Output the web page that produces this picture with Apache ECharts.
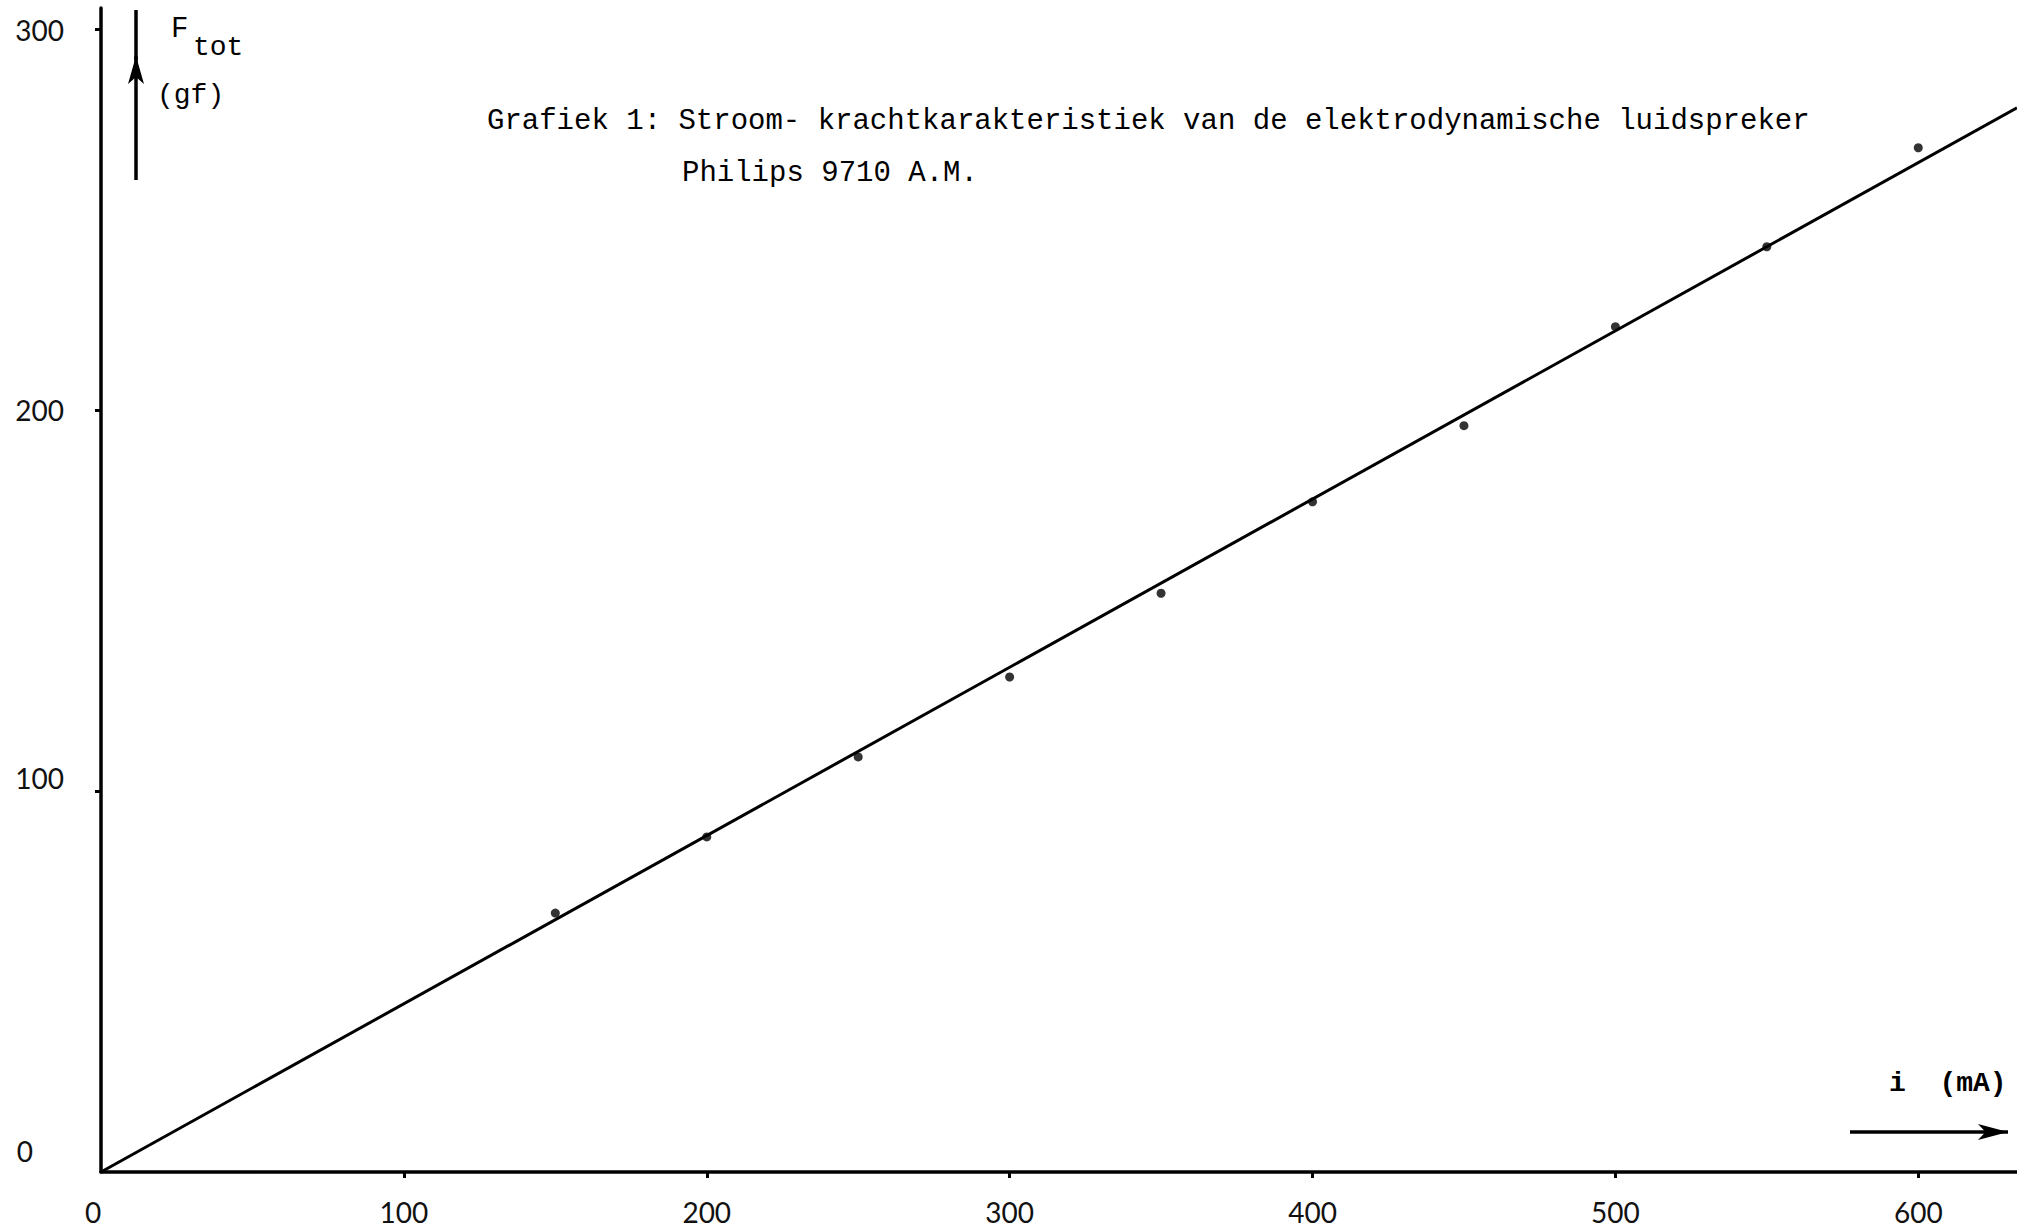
<!DOCTYPE html>
<html>
<head>
<meta charset="utf-8">
<script src="https://cdn.jsdelivr.net/npm/echarts@6.0.0/dist/echarts.min.js"></script>
<style>
  html, body { margin: 0; padding: 0; background: #fff; }
  #chart { width: 2017px; height: 1231px; }
</style>
</head>
<body>
<div id="chart"></div>
<script>
// meetpunten: stroom i (mA) tegen kracht F_tot (gf)
const stroom = [150, 200, 250, 300, 350, 400, 450, 500, 550, 600];
const kracht = [68, 88, 109, 130, 152, 176, 196, 222, 243, 269];

const rechteX = [0, 632.6];
const rechteY = [0, 279.5];

const xTicks = [0, 100, 200, 300, 400, 500, 600];
const yTicks = [0, 100, 200, 300];

const titel = 'Grafiek 1: Stroom- krachtkarakteristiek van de elektrodynamische luidspreker';
const subtitel = 'Philips 9710 A.M.';

const mono = '"Liberation Mono", "DejaVu Sans Mono", monospace';
const sans = 'Lato, "Noto Sans", sans-serif';

const chart = echarts.init(document.getElementById('chart'), null, { renderer: 'svg' });

const option = {
  animation: false,
  backgroundColor: '#fff',
  title: [
    { text: titel, left: 482, top: 102, textStyle: { fontFamily: mono, fontSize: 29, fontWeight: 'normal', color: '#000' } },
    { text: subtitel, left: 677, top: 154, textStyle: { fontFamily: mono, fontSize: 29, fontWeight: 'normal', color: '#000' } },
    { text: 'F', left: 166, top: 10, textStyle: { fontFamily: mono, fontSize: 29, fontWeight: 'normal', color: '#000' } },
    { text: 'tot', left: 188, top: 28, textStyle: { fontFamily: mono, fontSize: 28, fontWeight: 'normal', color: '#000' } },
    { text: '(gf)', left: 152, top: 76, textStyle: { fontFamily: mono, fontSize: 28, fontWeight: 'normal', color: '#000' } },
    { text: 'i  (mA)', left: 1884, top: 1064, textStyle: { fontFamily: mono, fontSize: 28, fontWeight: 'bold', color: '#000' } }
  ],
  grid: { left: 101, right: 0, top: 8, bottom: 59, containLabel: false, outerBoundsMode: 'none' },
  xAxis: {
    type: 'value',
    min: 0,
    max: 632.6,
    interval: 100,
    splitLine: { show: false },
    axisLine: { show: true, onZero: false, lineStyle: { color: '#000', width: 3.5 } },
    axisTick: { show: true, length: 6, customValues: xTicks.slice(1), lineStyle: { color: '#000', width: 3 } },
    axisLabel: {
      customValues: xTicks,
      margin: 26,
      fontFamily: sans,
      fontSize: 28,
      color: '#111',
      formatter: function (v) {
        return v === 0 ? '{nul|0}' : String(v);
      },
      rich: {
        nul: { fontFamily: sans, fontSize: 28, color: '#111', padding: [0, 16, 0, 0] }
      }
    }
  },
  yAxis: {
    type: 'value',
    min: 0,
    max: 305.7,
    interval: 100,
    splitLine: { show: false },
    axisLine: { show: true, onZero: false, lineStyle: { color: '#000', width: 3.5 } },
    axisTick: { show: true, length: 6, customValues: yTicks.slice(1), lineStyle: { color: '#000', width: 3 } },
    axisLabel: {
      customValues: yTicks,
      margin: 37,
      fontFamily: sans,
      fontSize: 28,
      color: '#111',
      formatter: function (v) {
        if (v === 0) return '{nul|0}';
        if (v === 100) return '{hon|100}';
        return String(v);
      },
      rich: {
        nul: { fontFamily: sans, fontSize: 28, color: '#111', padding: [0, 31, 42, 0] },
        hon: { fontFamily: sans, fontSize: 28, color: '#111', padding: [0, 0, 26, 0] }
      }
    }
  },
  series: [
    {
      type: 'line',
      data: rechteX.map((x, i) => [x, rechteY[i]]),
      showSymbol: false,
      symbol: 'none',
      lineStyle: { color: '#000', width: 3 },
      silent: true,
      z: 2,
      markLine: {
        silent: true,
        symbol: ['none', 'none'],
        label: { show: false },
        lineStyle: { color: '#000', width: 3.5, type: 'solid' },
        data: [
          [{ x: 1850, y: 1132 }, { x: 2008, y: 1132, symbol: 'arrow', symbolSize: [12, 30] }],
          [{ x: 136, y: 180 }, { x: 136, y: 56, symbol: 'arrow', symbolSize: [12, 28] }],
          [{ x: 136, y: 60 }, { x: 136, y: 10 }]
        ]
      }
    },
    {
      type: 'scatter',
      data: stroom.map((x, i) => [x, kracht[i]]),
      symbol: 'circle',
      symbolSize: 9,
      itemStyle: { color: '#000' },
      z: 3
    }
  ]
};

chart.setOption(option);
window.addEventListener('resize', () => chart.resize());
</script>
</body>
</html>
